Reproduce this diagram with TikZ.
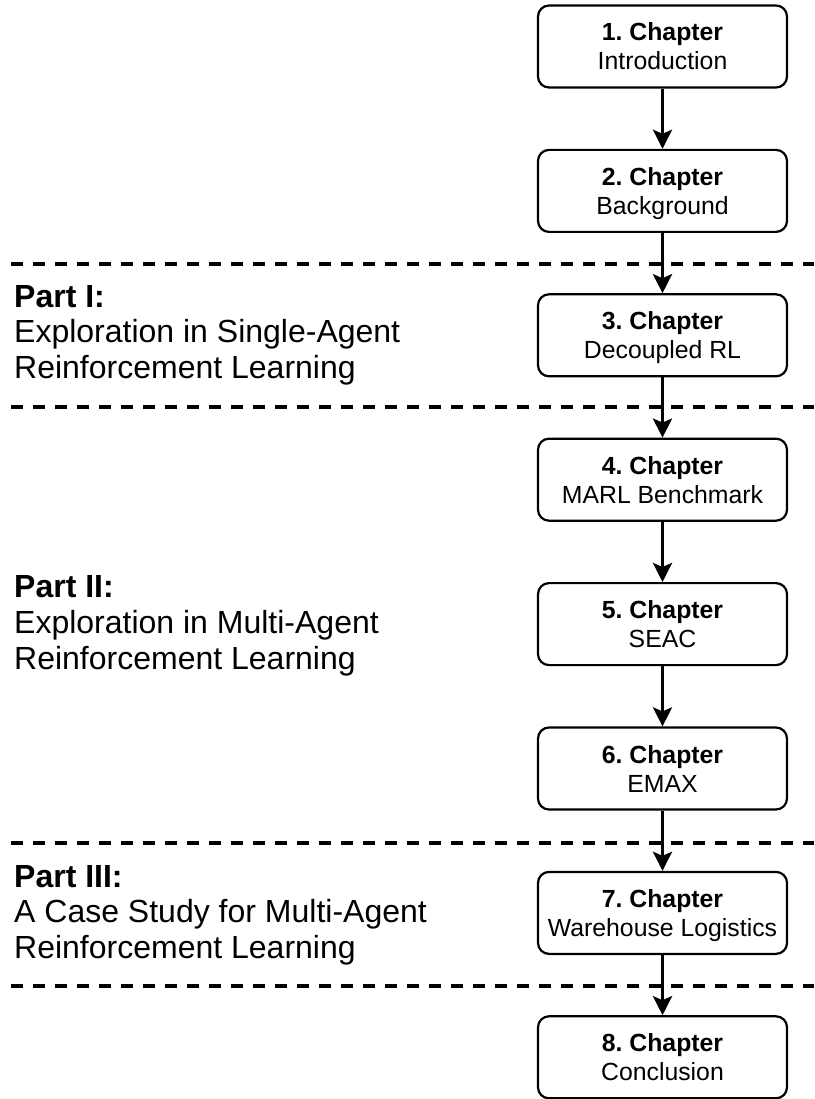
\documentclass[tikz,border=0pt]{standalone}
\usepackage{fontspec}
\setmainfont{Liberation Sans}
\frenchspacing
\usetikzlibrary{arrows.meta}
\begin{document}
\begin{tikzpicture}[x=1pt,y=-1pt,
  chapbox/.style={draw=black, line width=2.2pt, rounded corners=11pt, minimum width=249pt, minimum height=82pt, inner sep=0pt, fill=white},
  chaptitle/.style={anchor=base, inner sep=0pt, font=\fontsize{24.8}{29}\selectfont\bfseries},
  chapsub/.style={anchor=base, inner sep=0pt, font=\fontsize{24.8}{29}\selectfont},
  flow/.style={line width=3.4pt, -{Stealth[length=19pt,width=19pt,inset=4pt]}},
  sepline/.style={line width=3.6pt, dash pattern=on 12pt off 10pt},
  parthead/.style={anchor=base west, inner sep=0pt, font=\fontsize{32}{36}\selectfont\bfseries},
  parttext/.style={anchor=base west, inner sep=0pt, font=\fontsize{32}{36}\selectfont},
]
\useasboundingbox (0,0) rectangle (814,1099);

% separators
\coordinate (d1a) at (11,264); \coordinate (d1b) at (814,264);
\coordinate (d2a) at (11,407); \coordinate (d2b) at (814,407);
\coordinate (d3a) at (11,843); \coordinate (d3b) at (814,843);
\coordinate (d4a) at (11,986); \coordinate (d4b) at (814,986);
\draw[sepline] (d1a) -- (d1b);
\draw[sepline] (d2a) -- (d2b);
\draw[sepline] (d3a) -- (d3b);
\draw[sepline] (d4a) -- (d4b);

% chapter boxes
\node[chapbox] (c1) at (662.5,46.5) {};
\node[chapbox] (c2) at (662.5,190.9) {};
\node[chapbox] (c3) at (662.5,335.3) {};
\node[chapbox] (c4) at (662.5,479.7) {};
\node[chapbox] (c5) at (662.5,624.1) {};
\node[chapbox] (c6) at (662.5,768.5) {};
\node[chapbox] (c7) at (662.5,912.9) {};
\node[chapbox] (c8) at (662.5,1057.3) {};

\node[chaptitle] (c1t) at ([yshift=5.5pt]c1.center) {1. Chapter};
\node[chapsub]   (c1s) at ([yshift=-23.5pt]c1.center) {Introduction};
\node[chaptitle] (c2t) at ([yshift=5.5pt]c2.center) {2. Chapter};
\node[chapsub]   (c2s) at ([yshift=-23.5pt]c2.center) {Background};
\node[chaptitle] (c3t) at ([yshift=5.5pt]c3.center) {3. Chapter};
\node[chapsub]   (c3s) at ([yshift=-23.5pt]c3.center) {Decoupled RL};
\node[chaptitle] (c4t) at ([yshift=5.5pt]c4.center) {4. Chapter};
\node[chapsub]   (c4s) at ([yshift=-23.5pt]c4.center) {MARL Benchmark};
\node[chaptitle] (c5t) at ([yshift=5.5pt]c5.center) {5. Chapter};
\node[chapsub]   (c5s) at ([yshift=-23.5pt]c5.center) {SEAC};
\node[chaptitle] (c6t) at ([yshift=5.5pt]c6.center) {6. Chapter};
\node[chapsub]   (c6s) at ([yshift=-23.5pt]c6.center) {EMAX};
\node[chaptitle] (c7t) at ([yshift=5.5pt]c7.center) {7. Chapter};
\node[chapsub]   (c7s) at ([yshift=-23.5pt]c7.center) {Warehouse Logistics};
\node[chaptitle] (c8t) at ([yshift=5.5pt]c8.center) {8. Chapter};
\node[chapsub]   (c8s) at ([yshift=-23.5pt]c8.center) {Conclusion};

% connectors
\draw[flow] (c1) -- (c2);
\draw[flow] (c2) -- (c3);
\draw[flow] (c3) -- (c4);
\draw[flow] (c4) -- (c5);
\draw[flow] (c5) -- (c6);
\draw[flow] (c6) -- (c7);
\draw[flow] (c7) -- (c8);

% part labels
\node[parthead] (p1h) at (14,307) {Part I:};
\node[parttext] (p1a) at (14,342.5) {Exploration in Single-Agent};
\node[parttext] (p1b) at (14,378) {Reinforcement Learning};

\node[parthead] (p2h) at (14,597) {Part II:};
\node[parttext] (p2a) at (14,633) {Exploration in Multi-Agent};
\node[parttext] (p2b) at (14,669) {Reinforcement Learning};

\node[parthead] (p3h) at (14,887) {Part III:};
\node[parttext] (p3a) at (14,922.5) {A Case Study for Multi-Agent};
\node[parttext] (p3b) at (14,958) {Reinforcement Learning};
\end{tikzpicture}
\end{document}
